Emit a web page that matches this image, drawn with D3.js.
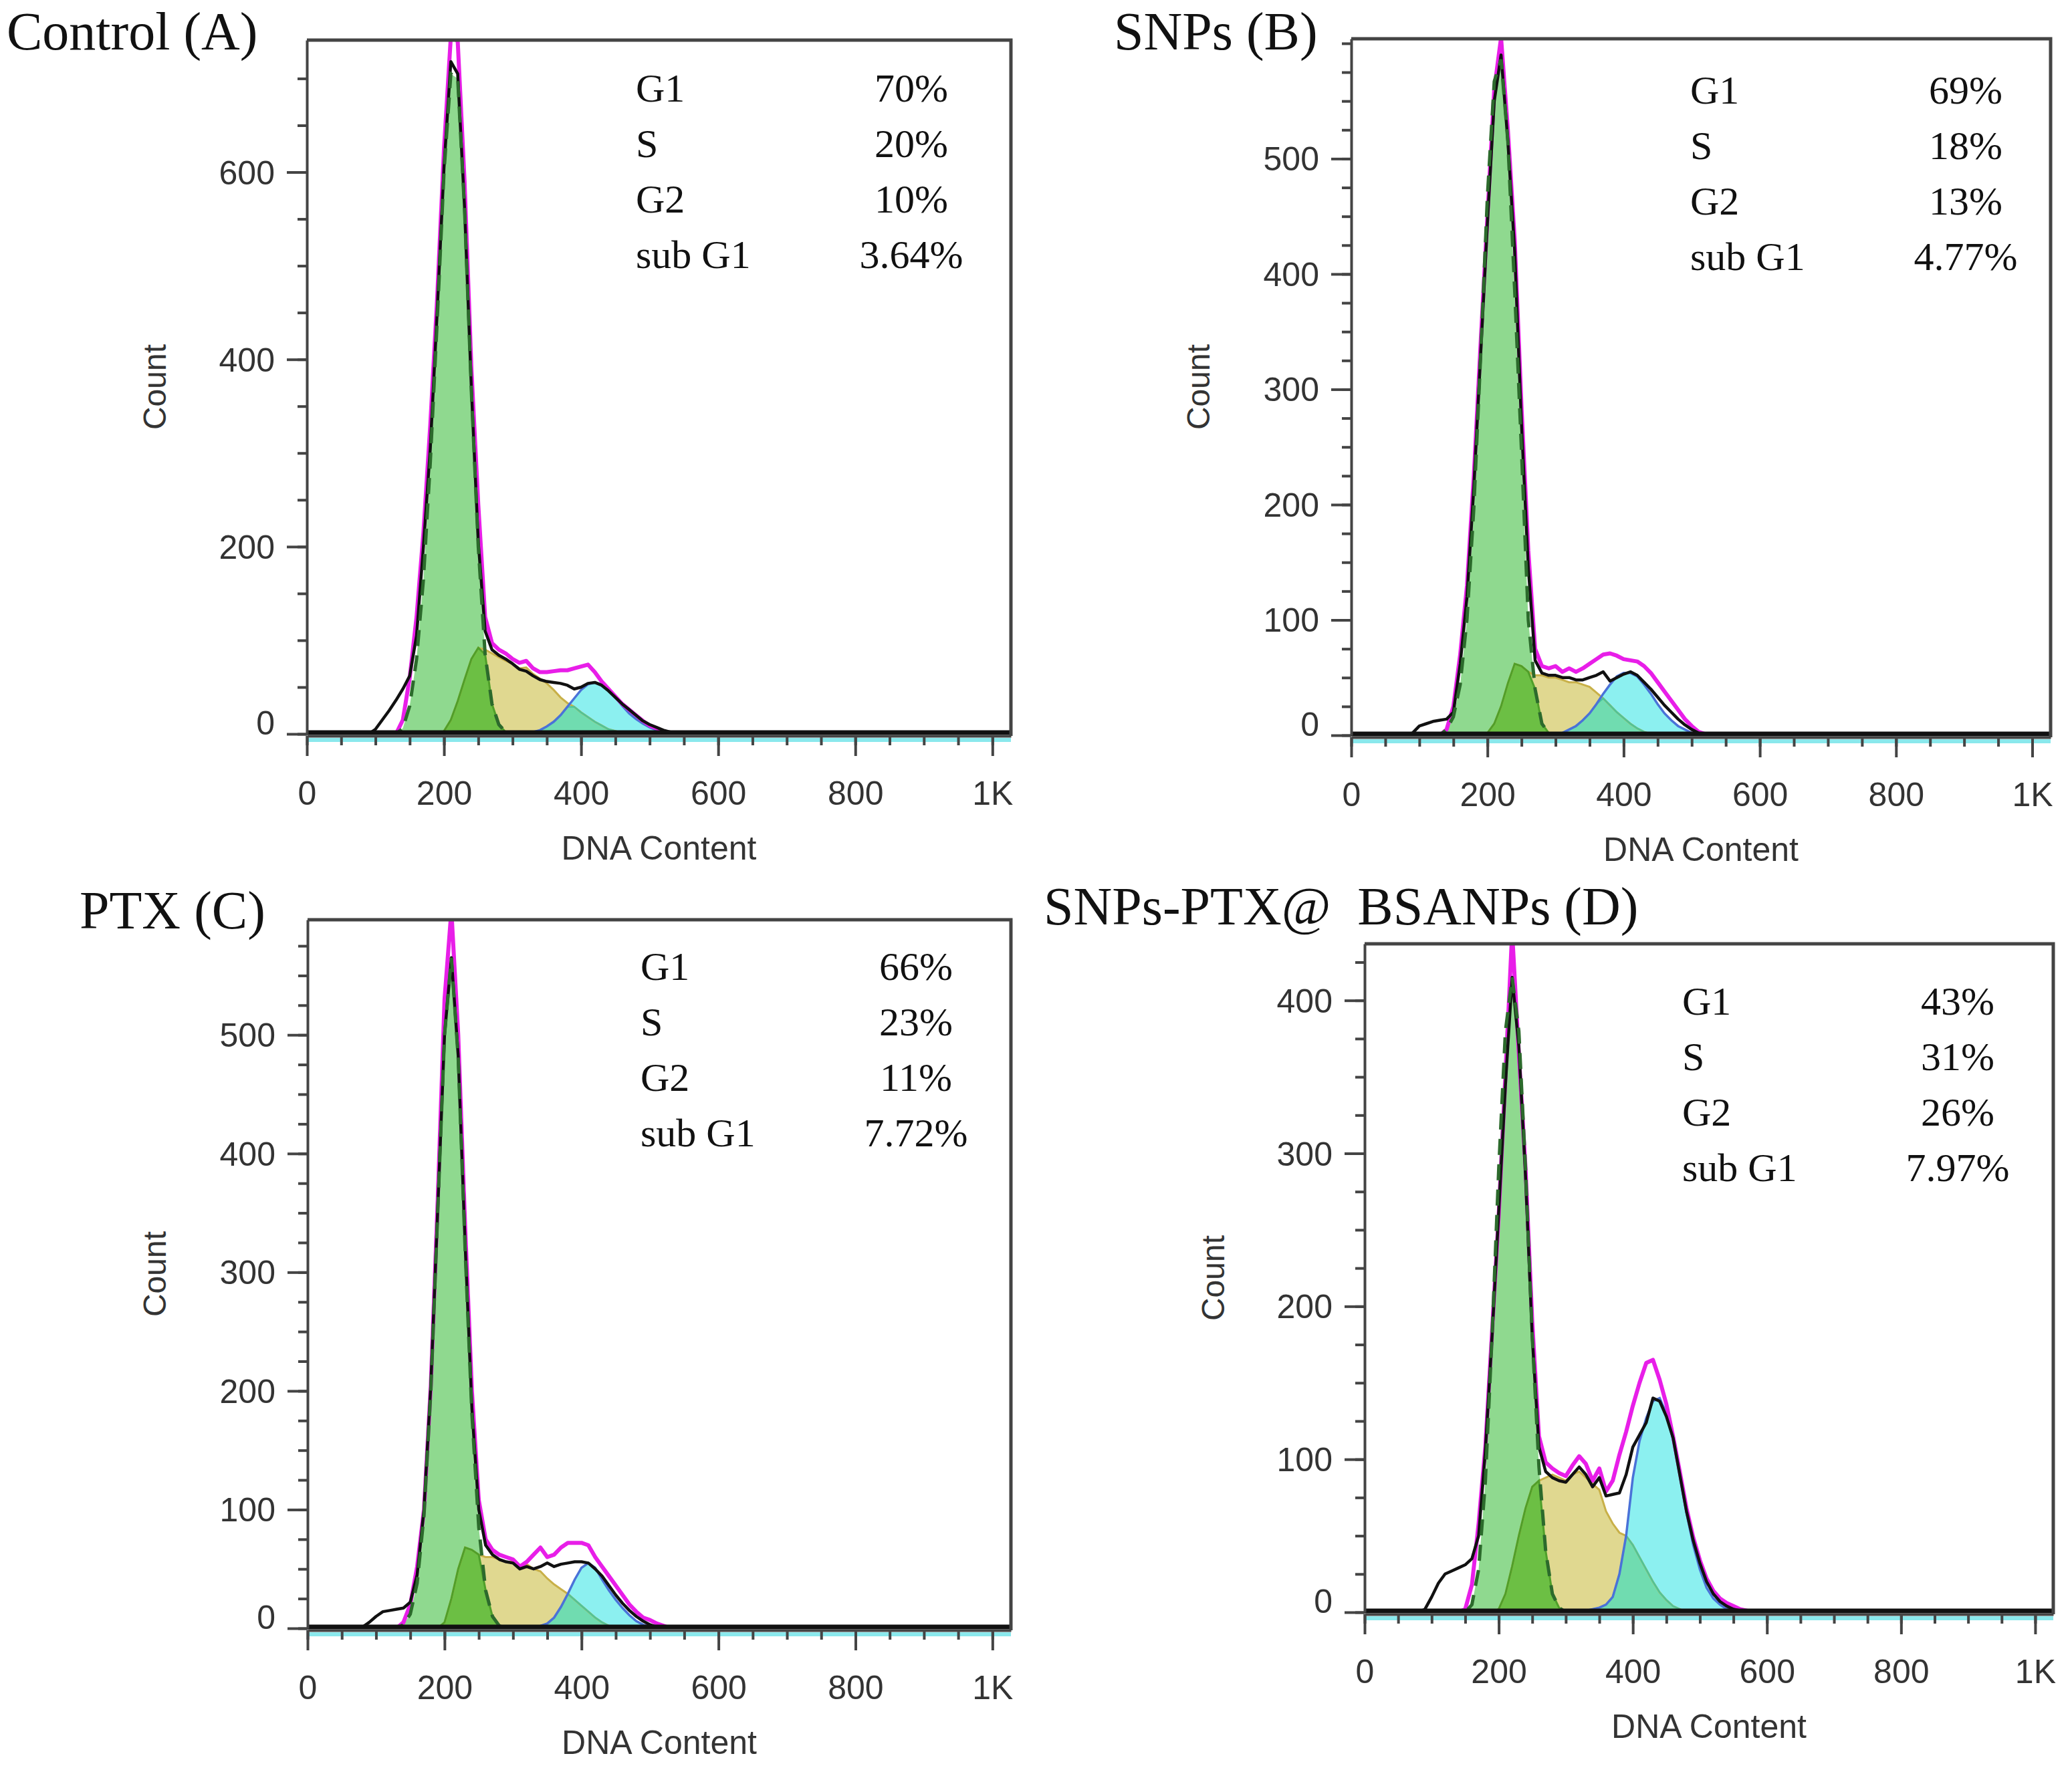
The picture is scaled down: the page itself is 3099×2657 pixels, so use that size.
<!DOCTYPE html>
<html>
<head>
<meta charset="utf-8">
<title>Cell cycle histograms</title>
<script src="https://cdn.jsdelivr.net/npm/d3@7"></script>
<style>
  body { margin: 0; background: #fff; }
  svg { display: block; }
  .axis text { font-family: "Liberation Sans", Arial, sans-serif; font-size: 50px; fill: #333; }
  .axis line, .axis path { stroke: #444; stroke-width: 4; }
</style>
</head>
<body>
<script>
const width = 3099, height = 2657;
const xMax = 1027;

// histogram channels (DNA content), shared by every series below
const channels = [
  80, 90, 100, 110, 120, 130, 140, 150, 160, 170,
  180, 190, 200, 210, 220, 230, 240, 250, 260, 270,
  280, 290, 300, 310, 320, 330, 340, 350, 360, 370,
  380, 390, 400, 410, 420, 430, 440, 450, 460, 470,
  480, 490, 500, 510, 520, 530, 540, 550, 560, 570,
  580];

const xTickValues = [0, 200, 400, 600, 800, 1000];
const xTickLabels = ["0", "200", "400", "600", "800", "1K"];
const phaseLabels = ["G1", "S", "G2", "sub G1"];

// ---- Control (A)
const g1A = [
  0, 0, 0, 0, 0, 0, 6, 30, 80, 165,
  290, 440, 600, 705, 700, 560, 365, 200, 85, 32,
  10, 2, 0, 0, 0, 0, 0, 0, 0, 0,
  0, 0, 0, 0, 0, 0, 0, 0, 0, 0,
  0, 0, 0, 0, 0, 0, 0, 0, 0, 0,
  0];
const sA = [
  0, 0, 0, 0, 0, 0, 0, 0, 0, 0,
  0, 0, 3, 15, 35, 58, 80, 92, 90, 86,
  82, 78, 75, 70, 71, 64, 59, 54, 47, 39,
  33, 29, 23, 18, 13, 9, 5, 3, 1, 0,
  0, 0, 0, 0, 0, 0, 0, 0, 0, 0,
  0];
const g2A = [
  0, 0, 0, 0, 0, 0, 0, 0, 0, 0,
  0, 0, 0, 0, 0, 0, 0, 0, 0, 0,
  0, 0, 0, 0, 1, 2, 4, 8, 13, 20,
  29, 38, 47, 53, 55, 53, 47, 39, 30, 22,
  16, 11, 7, 4, 2, 1, 0, 0, 0, 0,
  0];
const dataA = [
  0, 0, 0, 0, 0, 0, 15, 60, 125, 215,
  330, 465, 625, 745, 740, 590, 390, 245, 125, 97,
  90, 86, 80, 76, 78, 70, 66, 66, 67, 68,
  68, 70, 72, 74, 66, 56, 48, 40, 32, 26,
  20, 14, 9, 6, 3, 1, 0, 0, 0, 0,
  0];
const fitA = [
  0, 0, 5, 15, 25, 36, 48, 62, 105, 200,
  305, 450, 605, 718, 705, 562, 368, 205, 110, 90,
  84, 80, 75, 69, 67, 62, 58, 56, 55, 54,
  52, 48, 50, 54, 55, 52, 46, 39, 32, 26,
  20, 14, 10, 7, 4, 2, 1, 0, 0, 0,
  0];
const percentA = ["70%", "20%", "10%", "3.64%"];

// ---- SNPs (B)
const g1B = [
  0, 0, 0, 0, 0, 0, 5, 16, 44, 101,
  197, 329, 468, 567, 586, 515, 386, 247, 100, 40,
  10, 2, 0, 0, 0, 0, 0, 0, 0, 0,
  0, 0, 0, 0, 0, 0, 0, 0, 0, 0,
  0, 0, 0, 0, 0, 0, 0, 0, 0, 0,
  0];
const sB = [
  0, 0, 0, 0, 0, 0, 0, 0, 0, 0,
  0, 0, 2, 10, 25, 45, 62, 60, 55, 52,
  52, 50, 50, 48, 46, 46, 44, 42, 37, 32,
  26, 20, 15, 10, 6, 3, 1, 0, 0, 0,
  0, 0, 0, 0, 0, 0, 0, 0, 0, 0,
  0];
const g2B = [
  0, 0, 0, 0, 0, 0, 0, 0, 0, 0,
  0, 0, 0, 0, 0, 0, 0, 0, 0, 0,
  0, 0, 1, 2, 5, 8, 13, 19, 27, 36,
  44, 51, 54, 54, 51, 44, 36, 27, 19, 13,
  8, 5, 2, 1, 0, 0, 0, 0, 0, 0,
  0];
const dataB = [
  0, 0, 0, 0, 0, 0, 5, 25, 70, 130,
  225, 340, 450, 560, 605, 525, 430, 285, 160, 75,
  60, 58, 60, 55, 58, 55, 58, 62, 66, 70,
  71, 69, 66, 65, 64, 60, 54, 46, 38, 30,
  22, 14, 8, 3, 1, 0, 0, 0, 0, 0,
  0];
const fitB = [
  0, 2, 8, 10, 12, 13, 14, 20, 62, 120,
  215, 330, 445, 550, 590, 515, 420, 270, 145, 65,
  54, 52, 52, 50, 50, 48, 48, 50, 52, 55,
  47, 50, 53, 55, 52, 46, 40, 33, 26, 20,
  14, 9, 5, 2, 0, 0, 0, 0, 0, 0,
  0];
const percentB = ["69%", "18%", "13%", "4.77%"];

// ---- PTX (C)
const g1C = [
  0, 0, 0, 0, 0, 0, 3, 12, 38, 95,
  200, 350, 500, 565, 480, 320, 180, 85, 32, 10,
  2, 0, 0, 0, 0, 0, 0, 0, 0, 0,
  0, 0, 0, 0, 0, 0, 0, 0, 0, 0,
  0, 0, 0, 0, 0, 0, 0, 0, 0, 0,
  0];
const sC = [
  0, 0, 0, 0, 0, 0, 0, 0, 0, 0,
  0, 0, 5, 25, 50, 68, 66, 62, 60, 60,
  58, 56, 56, 50, 54, 50, 48, 42, 37, 33,
  29, 24, 19, 14, 9, 5, 2, 0, 0, 0,
  0, 0, 0, 0, 0, 0, 0, 0, 0, 0,
  0];
const g2C = [
  0, 0, 0, 0, 0, 0, 0, 0, 0, 0,
  0, 0, 0, 0, 0, 0, 0, 0, 0, 0,
  0, 0, 0, 0, 0, 1, 2, 4, 9, 18,
  29, 41, 51, 55, 51, 41, 32, 24, 17, 11,
  6, 3, 1, 0, 0, 0, 0, 0, 0, 0,
  0];
const dataC = [
  0, 0, 0, 0, 0, 0, 5, 20, 52, 100,
  205, 360, 530, 605, 500, 340, 200, 108, 75, 66,
  62, 60, 58, 52, 56, 62, 68, 60, 62, 68,
  72, 72, 72, 70, 60, 52, 44, 36, 28, 20,
  14, 9, 7, 4, 2, 0, 0, 0, 0, 0,
  0];
const fitC = [
  1, 5, 10, 14, 15, 16, 17, 22, 45, 100,
  205, 352, 500, 565, 482, 325, 185, 100, 70, 62,
  58, 56, 55, 50, 52, 50, 52, 55, 52, 54,
  55, 56, 56, 55, 50, 44, 36, 28, 21, 15,
  10, 6, 3, 1, 0, 0, 0, 0, 0, 0,
  0];
const percentC = ["66%", "23%", "11%", "7.72%"];

// ---- SNPs-PTX@ BSANPs (D)
const g1D = [
  0, 0, 0, 0, 0, 0, 0, 0, 5, 28,
  85, 180, 290, 380, 415, 380, 290, 180, 95, 40,
  12, 3, 0, 0, 0, 0, 0, 0, 0, 0,
  0, 0, 0, 0, 0, 0, 0, 0, 0, 0,
  0, 0, 0, 0, 0, 0, 0, 0, 0, 0,
  0];
const sD = [
  0, 0, 0, 0, 0, 0, 0, 0, 0, 0,
  0, 0, 2, 12, 30, 50, 68, 82, 86, 88,
  90, 88, 86, 90, 92, 88, 84, 80, 66, 58,
  52, 50, 44, 36, 28, 20, 13, 8, 4, 2,
  0, 0, 0, 0, 0, 0, 0, 0, 0, 0,
  0];
const g2D = [
  0, 0, 0, 0, 0, 0, 0, 0, 0, 0,
  0, 0, 0, 0, 0, 0, 0, 0, 0, 0,
  0, 0, 0, 0, 0, 1, 2, 3, 5, 10,
  25, 50, 88, 112, 127, 138, 140, 130, 113, 90,
  65, 44, 28, 16, 9, 5, 2, 1, 0, 0,
  0];
const dataD = [
  0, 0, 0, 0, 0, 0, 0, 2, 18, 58,
  108, 183, 260, 350, 445, 365, 290, 190, 115, 98,
  94, 91, 89, 96, 102, 97, 86, 94, 79, 86,
  103, 118, 135, 150, 163, 165, 152, 136, 115, 92,
  68, 49, 34, 22, 14, 9, 6, 4, 2, 1,
  0];
const fitD = [
  0, 2, 10, 19, 25, 27, 29, 31, 35, 50,
  105, 180, 262, 345, 415, 370, 285, 180, 108, 92,
  88, 86, 85, 90, 95, 90, 82, 88, 76, 77,
  78, 90, 108, 116, 124, 140, 138, 128, 114, 90,
  66, 47, 32, 20, 12, 7, 4, 2, 1, 0,
  0];
const percentD = ["43%", "31%", "26%", "7.97%"];

const panels = [
  { title: "Control (A)", g1: g1A, s: sA, g2: g2A, data: dataA, fit: fitA, pct: percentA,
    yMax: 741, yTicks: [0, 200, 400, 600], yMinor: 50 },
  { title: "SNPs (B)", g1: g1B, s: sB, g2: g2B, data: dataB, fit: fitB, pct: percentB,
    yMax: 604, yTicks: [0, 100, 200, 300, 400, 500], yMinor: 25 },
  { title: "PTX (C)", g1: g1C, s: sC, g2: g2C, data: dataC, fit: fitC, pct: percentC,
    yMax: 597, yTicks: [0, 100, 200, 300, 400, 500], yMinor: 25 },
  { title: "SNPs-PTX@  BSANPs (D)", g1: g1D, s: sD, g2: g2D, data: dataD, fit: fitD, pct: percentD,
    yMax: 437, yTicks: [0, 100, 200, 300, 400], yMinor: 25 }
];

// where each plot box sits on the page
const layout = [
  { left: 459, right: 1512, top: 60, base: 1098, titleX: 10, titleY: 74, legX: 951, legY: 152, countX: 231 },
  { left: 2021, right: 3067, top: 58, base: 1100, titleX: 1666, titleY: 74, legX: 2528, legY: 155, countX: 1792 },
  { left: 460, right: 1512, top: 1376, base: 2436, titleX: 119, titleY: 1389, legX: 958, legY: 1466, countX: 231 },
  { left: 2041, right: 3071, top: 1412, base: 2412, titleX: 1561, titleY: 1383, legX: 2516, legY: 1518, countX: 1814 }
];

const svg = d3.select("body").append("svg")
  .attr("width", width)
  .attr("height", height)
  .style("background", "#fff");

const defs = svg.append("defs");

panels.forEach(function (p, i) {
  const L = layout[i];
  const x = d3.scaleLinear().domain([0, xMax]).range([L.left, L.right]);
  const y = d3.scaleLinear().domain([0, p.yMax]).range([L.base, L.top]);
  const g = svg.append("g");

  defs.append("clipPath").attr("id", "clip" + i)
    .append("rect")
    .attr("x", L.left).attr("y", L.top)
    .attr("width", L.right - L.left).attr("height", L.base - L.top);

  const plot = g.append("g").attr("clip-path", "url(#clip" + i + ")");

  const pts = function (vals) { return vals.map(function (v, k) { return [channels[k], v]; }); };
  const area = d3.area().x(d => x(d[0])).y0(y(0)).y1(d => y(d[1]));
  const line = d3.line().x(d => x(d[0])).y(d => y(d[1]));

  // overlap of the fitted components
  const g1s = p.g1.map((v, k) => Math.min(v, p.s[k]));
  const sg2 = p.s.map((v, k) => Math.min(v, p.g2[k]));

  plot.append("path").attr("d", area(pts(p.g1))).attr("fill", "#8fd98f");
  plot.append("path").attr("d", area(pts(p.s))).attr("fill", "#e0d890");
  plot.append("path").attr("d", area(pts(p.g2))).attr("fill", "#8cf0f0");
  plot.append("path").attr("d", area(pts(g1s))).attr("fill", "#6cbf44");
  plot.append("path").attr("d", area(pts(sg2))).attr("fill", "#70dcb0");

  plot.append("path").attr("d", line(pts(p.s)))
    .attr("fill", "none").attr("stroke", "#c8b048").attr("stroke-width", 3);
  plot.append("path").attr("d", line(pts(g1s)))
    .attr("fill", "none").attr("stroke", "#4f9f2a").attr("stroke-width", 3);
  plot.append("path").attr("d", line(pts(sg2)))
    .attr("fill", "none").attr("stroke", "#4cc49a").attr("stroke-width", 2.5);
  plot.append("path").attr("d", line(pts(p.g2)))
    .attr("fill", "none").attr("stroke", "#4a72d8").attr("stroke-width", 3.5);

  // measured histogram and model sum
  plot.append("path").attr("d", line(pts(p.data)))
    .attr("fill", "none").attr("stroke", "#e81ee8").attr("stroke-width", 6)
    .attr("stroke-linejoin", "round");
  plot.append("path").attr("d", line(pts(p.fit)))
    .attr("fill", "none").attr("stroke", "#111").attr("stroke-width", 4.5)
    .attr("stroke-linejoin", "round");
  plot.append("path").attr("d", line(pts(p.g1)))
    .attr("fill", "none").attr("stroke", "#2c6a2c").attr("stroke-width", 5)
    .attr("stroke-dasharray", "24,14");

  // cyan strip under the axis and thick zero line
  g.append("line")
    .attr("x1", x(0)).attr("x2", x(xMax))
    .attr("y1", y(0) + 9).attr("y2", y(0) + 9)
    .attr("stroke", "#8ae8ec").attr("stroke-width", 6);
  g.append("line")
    .attr("x1", x(0)).attr("x2", x(xMax))
    .attr("y1", y(0) - 2).attr("y2", y(0) - 2)
    .attr("stroke", "#111").attr("stroke-width", 7);

  // axes
  g.append("g").attr("class", "axis")
    .attr("transform", "translate(0," + (L.base + 3) + ")")
    .call(d3.axisBottom(x).tickValues(d3.range(0, 1001, 50)).tickSize(14).tickSizeOuter(0).tickFormat(""));
  g.append("g").attr("class", "axis")
    .attr("transform", "translate(0," + (L.base + 3) + ")")
    .call(d3.axisBottom(x).tickValues(xTickValues).tickSize(30).tickSizeOuter(0)
      .tickFormat((d, k) => xTickLabels[k]))
    .call(a => a.select(".domain").remove())
    .call(a => a.selectAll("text").attr("y", 85).attr("dy", "0.35em"));

  g.append("g").attr("class", "axis")
    .attr("transform", "translate(" + L.left + ",0)")
    .call(d3.axisLeft(y).tickValues(d3.range(0, p.yMax, p.yMinor)).tickSize(14).tickSizeOuter(0).tickFormat(""));
  g.append("g").attr("class", "axis")
    .attr("transform", "translate(" + L.left + ",0)")
    .call(d3.axisLeft(y).tickValues(p.yTicks).tickSize(30).tickSizeOuter(0).tickFormat(d3.format("d")))
    .call(a => a.select(".domain").remove())
    .call(a => a.selectAll("text").attr("x", -48).attr("dy", "0.35em"))
    .call(a => a.selectAll("text").filter(d => d === 0).attr("y", -17));

  // box: top and right edges
  g.append("path")
    .attr("d", "M" + L.left + "," + L.top + "H" + L.right + "V" + (L.base + 3))
    .attr("fill", "none").attr("stroke", "#444").attr("stroke-width", 5);

  // axis titles
  g.append("text")
    .attr("transform", "translate(" + L.countX + "," + ((L.top + L.base) / 2) + ") rotate(-90)")
    .attr("text-anchor", "middle").attr("dy", "0.35em")
    .style("font-family", "'Liberation Sans', Arial, sans-serif")
    .style("font-size", "48px").style("fill", "#333")
    .text("Count");
  g.append("text")
    .attr("x", (L.left + L.right) / 2).attr("y", L.base + 188)
    .attr("text-anchor", "middle")
    .style("font-family", "'Liberation Sans', Arial, sans-serif")
    .style("font-size", "50px").style("fill", "#333")
    .text("DNA Content");

  // panel title
  g.append("text")
    .attr("x", L.titleX).attr("y", L.titleY)
    .style("font-family", "'Liberation Serif', 'Times New Roman', serif")
    .style("font-size", "80px").style("fill", "#111")
    .style("white-space", "pre")
    .text(p.title);

  // phase percentages
  phaseLabels.forEach(function (lab, k) {
    g.append("text")
      .attr("x", L.legX).attr("y", L.legY + k * 83)
      .style("font-family", "'Liberation Serif', 'Times New Roman', serif")
      .style("font-size", "60px").style("fill", "#111")
      .text(lab);
    g.append("text")
      .attr("x", L.legX + 412).attr("y", L.legY + k * 83)
      .attr("text-anchor", "middle")
      .style("font-family", "'Liberation Serif', 'Times New Roman', serif")
      .style("font-size", "60px").style("fill", "#111")
      .text(p.pct[k]);
  });
});
</script>
</body>
</html>
